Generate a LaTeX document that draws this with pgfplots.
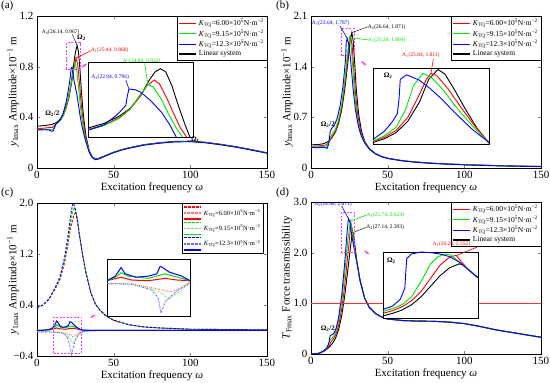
\documentclass[border=0pt]{standalone}
\usepackage{fontspec}
\setmainfont{Liberation Serif}
\usepackage{pgfplots}
\pgfplotsset{compat=1.18}
\usetikzlibrary{arrows.meta}
\newcommand{\fs}[1]{\fontsize{#1}{#1}\selectfont}
\newcommand{\KK}[1]{\textit{K}\textsubscript{TQ}=#1×10\textsuperscript{5}N·m\textsuperscript{−2}}
\newcommand{\ann}{\fontsize{5.5}{6}\selectfont}
\definecolor{myred}{rgb}{1,0,0}
\definecolor{mygreen}{rgb}{0,0.9,0}
\definecolor{myblue}{rgb}{0,0,1}
\definecolor{mymag}{rgb}{1,0.2,1}
\tikzset{magbox/.style={draw=mymag, dash pattern=on 2pt off 1.5pt, line width=0.8pt}}
\pgfplotsset{
  base/.style={scale only axis, width=230pt, height=152pt, anchor=south west,
    xmin=0, xmax=150, xtick={0,50,100,150}, xticklabels={0,50,100,150},
    tick label style={font=\fs{11}}, label style={font=\fs{11}},
    xlabel={Excitation frequency \textit{ω}}, xlabel style={yshift=3pt},
    ylabel style={at={(axis description cs:-0.104,0.5)}, anchor=center},
    every axis plot/.append style={line width=0.9pt},
    axis line style={line width=0.6pt}, major tick length=3pt,
    legend style={at={(1,1)}, anchor=north east, font=\fs{7.5}, inner sep=1pt, row sep=-1.5pt, cells={anchor=west}},
    legend image post style={line width=1.3pt},
    legend cell align=left},
  inset/.style={scale only axis, anchor=south west, xmin=0, xmax=1, ymin=0, ymax=1,
    ticks=none, axis background/.style={fill=white}, clip=false,
    every axis plot/.append style={line width=0.9pt}, axis line style={line width=0.6pt}},
  cdash/.style={dash pattern=on 2.5pt off 1.5pt, line width=0.9pt},
  cdot/.style={dash pattern=on 1.5pt off 1pt on 0.5pt off 1pt, line width=0.9pt},
  csol/.style={solid, line width=1pt},
}
\begin{document}
\begin{tikzpicture}
\useasboundingbox (0pt,0pt) rectangle (550pt,383pt);
\node[anchor=north west, font=\fs{11}, inner sep=0pt] at (1pt,382pt) {(a)};
\node[anchor=north west, font=\fs{11}, inner sep=0pt] at (276pt,382pt) {(b)};
\node[anchor=north west, font=\fs{11}, inner sep=0pt] at (1pt,195pt) {(c)};
\node[anchor=north west, font=\fs{11}, inner sep=0pt] at (276pt,195pt) {(d)};
%%%%%%%%%%%%%%%% (a)
\begin{axis}[base, at={(37pt,215pt)}, ymin=0, ymax=1.2, ytick={0,0.4,0.8,1.2}, yticklabels={0,0.4,0.8,1.2},
  ylabel={\textit{y}\textsubscript{1max} Amplitude×10\textsuperscript{−1} m}]
\addplot[color=black, forget plot] coordinates {(0,0.330) (5,0.335) (8,0.340) (10,0.345) (12,0.355) (14,0.370) (16,0.400) (18,0.450) (20,0.530) (22,0.650) (24,0.820) (25,0.910) (26.14,0.967) (27,0.920) (28,0.780) (29,0.600) (30,0.450) (31,0.340) (32,0.250) (34,0.140) (36,0.090) (38,0.072) (40,0.075) (43,0.090) (46,0.105) (50,0.125) (55,0.145) (60,0.160) (70,0.185) (80,0.200) (90,0.210) (100,0.212) (110,0.203) (120,0.187) (130,0.168) (140,0.145) (150,0.120)};
\addplot[color=myred] coordinates {(0,0.310) (5,0.315) (8,0.320) (10,0.320) (11,0.330) (12,0.345) (13,0.355) (15,0.375) (17,0.410) (19,0.470) (21,0.560) (23,0.700) (24.5,0.810) (25.44,0.868) (26.5,0.820) (27.5,0.700) (28.5,0.550) (29.5,0.430) (31,0.300) (32,0.230) (34,0.135) (36,0.088) (38,0.070) (40,0.073) (43,0.088) (46,0.103) (50,0.123) (55,0.143) (60,0.158) (70,0.183) (80,0.198) (90,0.208) (100,0.210) (110,0.201) (120,0.185) (130,0.166) (140,0.143) (150,0.119)};
\addlegendentry{\KK{6.00}}
\addplot[color=mygreen] coordinates {(0,0.300) (5,0.305) (8,0.305) (9.5,0.300) (10.5,0.305) (12,0.340) (13,0.352) (15,0.370) (17,0.410) (19,0.480) (21,0.580) (23,0.720) (24.84,0.832) (25.8,0.780) (27,0.650) (28,0.520) (29,0.410) (30.5,0.300) (32,0.215) (34,0.130) (36,0.085) (38,0.068) (40,0.072) (43,0.087) (46,0.102) (50,0.122) (55,0.142) (60,0.157) (70,0.182) (80,0.197) (90,0.207) (100,0.209) (110,0.200) (120,0.184) (130,0.165) (140,0.142) (150,0.118)};
\addlegendentry{\KK{9.15}}
\addplot[color=myblue] coordinates {(0,0.300) (5,0.302) (8,0.300) (9.5,0.290) (10.5,0.292) (11.5,0.320) (12.5,0.350) (13,0.355) (15,0.380) (17,0.430) (19,0.520) (20.5,0.620) (21.5,0.700) (22.3,0.790) (22.94,0.796) (23.3,0.770) (24,0.700) (25,0.640) (26,0.580) (27,0.500) (28,0.420) (29,0.350) (30.5,0.270) (32,0.200) (34,0.125) (36,0.082) (38,0.066) (40,0.070) (43,0.086) (46,0.101) (50,0.121) (55,0.141) (60,0.156) (70,0.181) (80,0.196) (90,0.206) (100,0.208) (110,0.199) (120,0.183) (130,0.164) (140,0.141) (150,0.117)};
\addlegendentry{\KK{12.3}}
\addlegendimage{color=black, line width=0.9pt}
\addlegendentry{Linear system}
\draw[magbox] (axis cs:19,0.78) rectangle (axis cs:28,0.99);
\node[anchor=west, font=\ann, inner sep=0pt] at (axis cs:3,1.075) {A\textsubscript{4}(26.14, 0.967)};
\draw[draw=black, thin] (axis cs:23,1.055) -- (axis cs:26.14,0.967);
\node[font=\fs{7}\bfseries, inner sep=0pt] at (axis cs:29,1.03) {Ω\textsubscript{2}};
\node[anchor=west, font=\ann, text=myred, inner sep=0pt] at (axis cs:35,0.93) {A\textsubscript{1}(25.44, 0.868)};
\draw[draw=myred, line width=0.6pt] (axis cs:35,0.925) -- (axis cs:25.44,0.868);
\node[font=\fs{7}\bfseries, inner sep=0pt] at (axis cs:10,0.43) {Ω\textsubscript{2}/2};
\end{axis}
\begin{axis}[inset, at={(88pt,246pt)}, width=105pt, height=75pt]
\addplot[color=black] coordinates {(0,0.12) (0.15,0.18) (0.3,0.28) (0.4,0.38) (0.5,0.55) (0.58,0.75) (0.64,0.87) (0.69,0.91) (0.74,0.87) (0.8,0.68) (0.86,0.42) (0.92,0.18) (0.97,0)};
\addplot[color=myred] coordinates {(0,0.10) (0.15,0.16) (0.3,0.26) (0.4,0.37) (0.5,0.55) (0.56,0.68) (0.63,0.76) (0.68,0.71) (0.75,0.52) (0.82,0.30) (0.88,0.12) (0.94,0)};
\addplot[color=mygreen] coordinates {(0,0.09) (0.15,0.15) (0.3,0.25) (0.4,0.37) (0.5,0.57) (0.57,0.70) (0.62,0.67) (0.7,0.50) (0.77,0.30) (0.84,0.12) (0.9,0)};
\addplot[color=myblue] coordinates {(0,0.09) (0.15,0.16) (0.28,0.30) (0.36,0.42) (0.375,0.55) (0.39,0.64) (0.45,0.63) (0.5,0.60) (0.6,0.48) (0.7,0.33) (0.78,0.16) (0.84,0)};
\node[anchor=west, font=\ann, text=mygreen, inner sep=0pt] at (axis cs:0.33,1.01) {A\textsubscript{2}(24.84, 0.832)};
\draw[draw=mygreen, line width=0.6pt] (axis cs:0.54,0.98) -- (axis cs:0.57,0.70);
\node[anchor=west, font=\ann, text=myblue, inner sep=0pt] at (axis cs:0.03,0.80) {A\textsubscript{3}(22.94, 0.796)};
\draw[draw=myblue, line width=0.6pt] (axis cs:0.36,0.76) -- (axis cs:0.39,0.64);
\node[anchor=west, font=\fs{7}\bfseries, inner sep=0pt] at (axis cs:0.98,-0.03) {Ω\textsubscript{1}};
\draw[draw=mymag, fill=mymag, line width=1.2pt, -{Stealth[length=3pt]}] (axis cs:-0.06,0.93) -- (axis cs:-0.01,0.98);
\end{axis}
%%%%%%%%%%%%%%%% (b)
\begin{axis}[base, at={(311pt,215pt)}, ymin=0, ymax=2.1, ytick={0,0.7,1.4,2.1}, yticklabels={0,0.7,1.4,2.1},
  ylabel={\textit{y}\textsubscript{bmax} Amplitude×10\textsuperscript{−1} m}]
\addplot[color=black, forget plot] coordinates {(0,0.320) (5,0.325) (8,0.335) (10,0.350) (12,0.380) (14,0.430) (16,0.500) (18,0.620) (20,0.800) (22,1.080) (24,1.450) (25.5,1.760) (26.64,1.871) (27.5,1.760) (28.5,1.450) (29.5,1.100) (31,0.750) (33,0.500) (35,0.370) (38,0.270) (42,0.200) (46,0.160) (50,0.135) (60,0.100) (70,0.080) (80,0.065) (90,0.055) (100,0.047) (110,0.040) (120,0.034) (130,0.029) (140,0.025) (150,0.022)};
\addplot[color=myred] coordinates {(0,0.300) (5,0.305) (8,0.312) (10,0.320) (11.5,0.350) (13,0.400) (14,0.440) (16,0.510) (18,0.640) (20,0.840) (22,1.140) (24,1.540) (25,1.740) (25.84,1.811) (26.8,1.700) (27.8,1.400) (29,1.030) (30.5,0.730) (32.5,0.490) (35,0.360) (38,0.265) (42,0.198) (46,0.158) (50,0.133) (60,0.099) (70,0.079) (80,0.064) (90,0.054) (100,0.046) (110,0.039) (120,0.033) (130,0.028) (140,0.024) (150,0.021)};
\addlegendentry{\KK{6.00}}
\addplot[color=mygreen] coordinates {(0,0.290) (5,0.293) (8,0.300) (10,0.300) (11,0.330) (12.5,0.420) (14,0.470) (16,0.540) (18,0.670) (20,0.880) (22,1.200) (24,1.620) (25.24,1.804) (26.2,1.680) (27.3,1.380) (28.5,1.020) (30,0.720) (32,0.490) (35,0.355) (38,0.262) (42,0.196) (46,0.157) (50,0.132) (60,0.098) (70,0.078) (80,0.063) (90,0.053) (100,0.045) (110,0.038) (120,0.032) (130,0.027) (140,0.023) (150,0.020)};
\addlegendentry{\KK{9.15}}
\addplot[color=myblue] coordinates {(0,0.280) (5,0.282) (8,0.285) (9.5,0.280) (10.5,0.270) (11.5,0.330) (12.5,0.500) (13.5,0.550) (15,0.580) (17,0.680) (19,0.860) (21,1.150) (22.5,1.500) (23,1.740) (23.64,1.787) (24.5,1.720) (25.5,1.560) (26.5,1.330) (27.5,1.080) (29,0.800) (31,0.570) (33,0.430) (35,0.345) (38,0.260) (42,0.195) (46,0.156) (50,0.131) (60,0.097) (70,0.077) (80,0.062) (90,0.052) (100,0.044) (110,0.037) (120,0.031) (130,0.026) (140,0.022) (150,0.019)};
\addlegendentry{\KK{12.3}}
\addlegendimage{color=black, line width=0.9pt}
\addlegendentry{Linear system}
\draw[magbox] (axis cs:20,1.55) rectangle (axis cs:28,1.93);
\node[anchor=west, font=\ann, text=myblue, inner sep=0pt] at (axis cs:0.5,2.0) {A\textsubscript{3}(23.64, 1.787)};
\draw[draw=myblue, line width=0.6pt] (axis cs:19,1.96) -- (axis cs:23.64,1.787);
\node[anchor=west, font=\ann, inner sep=0pt] at (axis cs:37,1.95) {A\textsubscript{4}(26.64, 1.871)};
\draw[draw=black, thin] (axis cs:37,1.95) -- (axis cs:26.64,1.871);
\node[anchor=west, font=\ann, text=mygreen, inner sep=0pt] at (axis cs:37,1.77) {A\textsubscript{2}(25.24, 1.804)};
\draw[draw=mygreen, line width=0.6pt] (axis cs:37,1.77) -- (axis cs:25.24,1.804);
\node[font=\fs{7}\bfseries, inner sep=0pt] at (axis cs:11,0.6) {Ω\textsubscript{2}/2};
\draw[draw=mymag, fill=mymag, line width=1.2pt, -{Stealth[length=3pt]}] (axis cs:33,1.47) -- (axis cs:36,1.42);
\end{axis}
\begin{axis}[inset, at={(373pt,239pt)}, width=116pt, height=76pt]
\addplot[color=black] coordinates {(0,0.02) (0.1,0.07) (0.2,0.15) (0.3,0.30) (0.4,0.55) (0.48,0.85) (0.56,0.98) (0.62,0.92) (0.7,0.72) (0.8,0.45) (0.9,0.20) (1.0,0.01)};
\addplot[color=myred] coordinates {(0,0.03) (0.1,0.09) (0.2,0.18) (0.3,0.35) (0.4,0.65) (0.46,0.85) (0.5,0.93) (0.55,0.90) (0.65,0.72) (0.75,0.50) (0.87,0.25) (1.0,0.02)};
\addplot[color=mygreen] coordinates {(0,0.04) (0.1,0.11) (0.2,0.22) (0.28,0.45) (0.35,0.77) (0.43,0.93) (0.5,0.88) (0.6,0.72) (0.72,0.48) (0.85,0.25) (1.0,0.02)};
\addplot[color=myblue] coordinates {(0,0.06) (0.1,0.17) (0.17,0.30) (0.21,0.40) (0.225,0.60) (0.235,0.85) (0.29,0.91) (0.4,0.84) (0.5,0.72) (0.6,0.58) (0.7,0.42) (0.85,0.20) (1.0,0.02)};
\node[font=\fs{7}\bfseries, inner sep=0pt] at (axis cs:0.13,0.9) {Ω\textsubscript{2}};
\node[anchor=west, font=\ann, text=myred, inner sep=0pt] at (axis cs:0.25,1.17) {A\textsubscript{1}(25.84, 1.811)};
\draw[draw=myred, line width=0.6pt] (axis cs:0.52,1.12) -- (axis cs:0.50,0.93);
\end{axis}
%%%%%%%%%%%%%%%% (c)
\begin{axis}[base, at={(37pt,27pt)}, height=153pt, ymin=-0.4, ymax=2.0, ytick={-0.4,0.4,1.2,2.0}, yticklabels={−0.4,0.4,1.2,2.0},
  ylabel={\textit{y}\textsubscript{1max} Amplitude×10\textsuperscript{−1} m},
  legend style={at={(0.985,1)}, font=\fs{6.5}, row sep=-2.2pt}]
\addplot[color=myred, cdash] coordinates {(0,0.36) (4,0.40) (8,0.50) (12,0.66) (15,0.80) (18,1.06) (20,1.32) (22,1.62) (24,1.80) (25.2,1.86) (26.2,1.78) (27.5,1.52) (28.5,1.38) (30,1.15) (32,0.90) (35,0.60) (38,0.42) (41,0.32) (45,0.23) (50,0.16) (60,0.09) (70,0.055) (80,0.04) (100,0.02) (150,0.01)};
\addlegendentry{}
\addplot[color=myred!55, cdot] coordinates {(0,-0.02) (10,-0.025) (15,-0.03) (18,-0.04) (21,-0.06) (23.5,-0.10) (25,-0.08) (27,-0.04) (30,-0.01) (40,0) (150,0)};
\addlegendentry{\KK{6.00}}
\addplot[color=myred, csol] coordinates {(0,0) (8,0.01) (10,0.02) (12.8,0.04) (15,0.025) (19,0.02) (22,0.035) (25,0.03) (28,0.01) (30,0.003) (40,0) (150,0)};
\addlegendentry{}
\addplot[color=mygreen, cdash] coordinates {(0,0.36) (4,0.40) (8,0.50) (12,0.67) (15,0.82) (18,1.10) (20,1.38) (22,1.70) (23.5,1.88) (24.5,1.93) (25.5,1.85) (27,1.60) (28,1.45) (30,1.15) (32,0.90) (35,0.60) (38,0.42) (41,0.32) (45,0.23) (50,0.16) (60,0.09) (70,0.055) (80,0.04) (100,0.02) (150,0.01)};
\addlegendentry{}
\addplot[color=mygreen!60, cdot] coordinates {(0,-0.02) (10,-0.025) (15,-0.03) (18,-0.05) (20,-0.08) (22,-0.15) (23.5,-0.20) (25,-0.14) (27,-0.07) (29,-0.03) (32,-0.01) (40,0) (150,0)};
\addlegendentry{\KK{9.15}}
\addplot[color=mygreen, csol] coordinates {(0,0) (8,0.012) (10,0.03) (12,0.06) (12.8,0.09) (14,0.07) (16,0.045) (19,0.045) (22,0.07) (24,0.06) (26,0.04) (28,0.015) (30,0.005) (40,0) (150,0)};
\addlegendentry{}
\addplot[color=myblue, cdash] coordinates {(0,0.36) (4,0.40) (8,0.50) (12,0.68) (15,0.84) (18,1.15) (20,1.45) (22,1.80) (23.3,2.00) (24.2,1.97) (25,1.90) (26.5,1.70) (28,1.45) (30,1.15) (32,0.90) (35,0.60) (38,0.42) (41,0.32) (45,0.23) (50,0.16) (60,0.09) (70,0.055) (80,0.04) (100,0.02) (150,0.01)};
\addlegendentry{}
\addplot[color=myblue!60, cdot] coordinates {(0,-0.02) (10,-0.025) (15,-0.03) (18,-0.06) (20,-0.12) (21.5,-0.25) (22.5,-0.37) (23.5,-0.28) (25,-0.15) (27,-0.07) (29,-0.03) (32,-0.01) (40,0) (150,0)};
\addlegendentry{\KK{12.3}}
\addplot[color=myblue, csol] coordinates {(0,0) (5,0.005) (8,0.015) (10,0.04) (11.5,0.08) (12.8,0.15) (13.5,0.13) (15,0.07) (17,0.05) (19,0.06) (20.5,0.08) (21.5,0.14) (22.5,0.13) (24,0.09) (26,0.05) (28,0.02) (30,0.005) (40,0) (150,0)};
\addlegendentry{}
\draw[magbox] (axis cs:11,-0.36) rectangle (axis cs:29,0.21);
\draw[draw=mymag, fill=mymag, line width=1.2pt, -{Stealth[length=3pt]}] (axis cs:35,0.20) -- (axis cs:38,0.25);
\end{axis}
\begin{axis}[inset, at={(107pt,67pt)}, width=83pt, height=57pt]
\addplot[color=myred!55, cdot] coordinates {(0,0.57) (0.3,0.56) (0.6,0.48) (0.77,0.42) (0.9,0.50) (1,0.60)};
\addplot[color=mygreen!60, cdot] coordinates {(0,0.57) (0.3,0.56) (0.6,0.45) (0.75,0.30) (0.85,0.40) (1,0.58)};
\addplot[color=myblue!60, cdot] coordinates {(0,0.57) (0.3,0.56) (0.55,0.45) (0.62,0.30) (0.65,0.05) (0.7,0.25) (0.85,0.45) (1,0.58)};
\addplot[color=myred, csol] coordinates {(0,0.62) (0.17,0.68) (0.3,0.63) (0.5,0.62) (0.7,0.66) (0.85,0.63) (1,0.62)};
\addplot[color=mygreen, csol] coordinates {(0,0.62) (0.1,0.68) (0.17,0.76) (0.25,0.70) (0.5,0.66) (0.65,0.72) (0.7,0.74) (0.85,0.68) (1,0.62)};
\addplot[color=myblue, csol] coordinates {(0,0.62) (0.1,0.70) (0.17,0.85) (0.22,0.74) (0.35,0.68) (0.5,0.70) (0.6,0.74) (0.64,0.87) (0.66,0.86) (0.75,0.77) (0.9,0.70) (1,0.62)};
\end{axis}
%%%%%%%%%%%%%%%% (d)
\begin{axis}[base, at={(311pt,29pt)}, ymin=0, ymax=3.0, ytick={0,1,2,3}, yticklabels={0,1.0,2.0,3.0},
  ylabel={\textit{T}\textsubscript{Fmax} Force transmissibility}]
\addplot[color=black, forget plot] coordinates {(0,0) (4,0.005) (6,0.02) (8,0.045) (10,0.085) (12,0.14) (14,0.21) (16,0.31) (18,0.48) (20,0.75) (22,1.15) (24,1.65) (25.5,2.05) (26.5,2.30) (27.14,2.393) (28,2.30) (29,2.05) (30,1.80) (32,1.45) (35,1.10) (38,0.92) (42,0.80) (46,0.73) (50,0.69) (60,0.66) (70,0.65) (80,0.645) (90,0.63) (100,0.60) (110,0.545) (120,0.48) (130,0.43) (140,0.38) (150,0.33)};
\addplot[color=myred] coordinates {(0,0) (4,0.006) (6,0.022) (8,0.05) (10,0.095) (12,0.17) (13,0.24) (14,0.27) (16,0.37) (18,0.56) (20,0.88) (22,1.35) (24,1.95) (25.5,2.40) (26.24,2.552) (27,2.45) (28,2.20) (29,1.95) (30,1.80) (32,1.45) (35,1.10) (38,0.92) (42,0.80) (46,0.73) (50,0.69) (60,0.66) (70,0.65) (80,0.645) (90,0.63) (100,0.60) (110,0.545) (120,0.48) (130,0.43) (140,0.38) (150,0.33)};
\addlegendentry{\KK{6.00}}
\addplot[color=mygreen] coordinates {(0,0) (4,0.007) (6,0.024) (8,0.055) (10,0.10) (11.5,0.18) (12.5,0.28) (14,0.32) (16,0.43) (18,0.65) (20,1.02) (22,1.60) (24,2.25) (25.74,2.624) (26.8,2.45) (28,2.15) (29,1.95) (30,1.80) (32,1.45) (35,1.10) (38,0.92) (42,0.80) (46,0.73) (50,0.69) (60,0.66) (70,0.65) (80,0.645) (90,0.63) (100,0.60) (110,0.545) (120,0.48) (130,0.43) (140,0.38) (150,0.33)};
\addlegendentry{\KK{9.15}}
\addplot[color=myblue] coordinates {(0,0) (4,0.008) (6,0.026) (8,0.06) (10,0.11) (11.5,0.20) (12.5,0.36) (14,0.39) (15,0.41) (16.5,0.52) (18,0.72) (20,1.15) (22,1.80) (23.5,2.40) (24.44,2.671) (25.5,2.60) (26.5,2.35) (28,2.10) (29,1.95) (30,1.80) (32,1.45) (35,1.10) (38,0.92) (42,0.80) (46,0.73) (50,0.69) (60,0.66) (70,0.65) (80,0.645) (90,0.63) (100,0.60) (110,0.545) (120,0.48) (130,0.43) (140,0.38) (150,0.33)};
\addlegendentry{\KK{12.3}}
\addlegendimage{color=black, line width=0.9pt}
\addlegendentry{Linear system}
\addplot[color=myred!80, line width=1.1pt, forget plot] coordinates {(0,1) (150,1)};
\draw[magbox] (axis cs:20,2.0) rectangle (axis cs:28,2.8);
\node[anchor=west, font=\ann, text=myblue, inner sep=0pt] at (axis cs:2,2.96) {A\textsubscript{3}(24.44, 2.671)};
\draw[draw=myblue, line width=0.6pt] (axis cs:20,2.92) -- (axis cs:24.44,2.671);
\node[anchor=west, font=\ann, text=mygreen, inner sep=0pt] at (axis cs:36,2.74) {A\textsubscript{2}(25.74, 2.624)};
\draw[draw=mygreen, line width=0.6pt] (axis cs:36,2.74) -- (axis cs:25.74,2.624);
\node[anchor=west, font=\ann, inner sep=0pt] at (axis cs:36,2.5) {A\textsubscript{4}(27.14, 2.393)};
\draw[draw=black, thin] (axis cs:36,2.5) -- (axis cs:27.14,2.393);
\node[font=\fs{7}\bfseries, inner sep=0pt] at (axis cs:11,0.49) {Ω\textsubscript{2}/2};
\draw[draw=mymag, fill=mymag, line width=1.2pt, -{Stealth[length=3pt]}] (axis cs:35,2.03) -- (axis cs:38,1.97);
\end{axis}
\begin{axis}[inset, at={(383pt,65pt)}, width=95pt, height=66pt]
\addplot[color=black] coordinates {(0,0.03) (0.1,0.07) (0.2,0.12) (0.3,0.20) (0.4,0.32) (0.5,0.48) (0.6,0.64) (0.7,0.76) (0.8,0.82) (0.85,0.80) (0.9,0.73) (1.0,0.61)};
\addplot[color=myred] coordinates {(0,0.07) (0.1,0.11) (0.2,0.17) (0.3,0.26) (0.4,0.40) (0.5,0.60) (0.6,0.80) (0.7,0.92) (0.77,0.95) (0.82,0.86) (0.9,0.73) (1.0,0.61)};
\addplot[color=mygreen] coordinates {(0,0.10) (0.1,0.14) (0.2,0.20) (0.3,0.32) (0.4,0.55) (0.5,0.82) (0.58,0.93) (0.66,0.97) (0.72,0.95) (0.8,0.85) (0.9,0.73) (1.0,0.61)};
\addplot[color=myblue] coordinates {(0,0.13) (0.1,0.18) (0.18,0.28) (0.23,0.45) (0.24,0.70) (0.25,0.90) (0.3,0.97) (0.4,1.0) (0.5,0.99) (0.6,0.97) (0.7,0.93) (0.8,0.85) (0.9,0.73) (1.0,0.61)};
\node[anchor=west, font=\fs{7}\bfseries, inner sep=0pt] at (axis cs:0.04,0.87) {Ω\textsubscript{2}};
\node[anchor=west, font=\ann, text=myred, inner sep=0pt] at (axis cs:0.52,1.12) {A\textsubscript{1}(26.24, 2.552)};
\draw[draw=myred, line width=0.6pt] (axis cs:1.0,1.08) -- (axis cs:0.78,0.95);
\end{axis}
\end{tikzpicture}
\end{document}
